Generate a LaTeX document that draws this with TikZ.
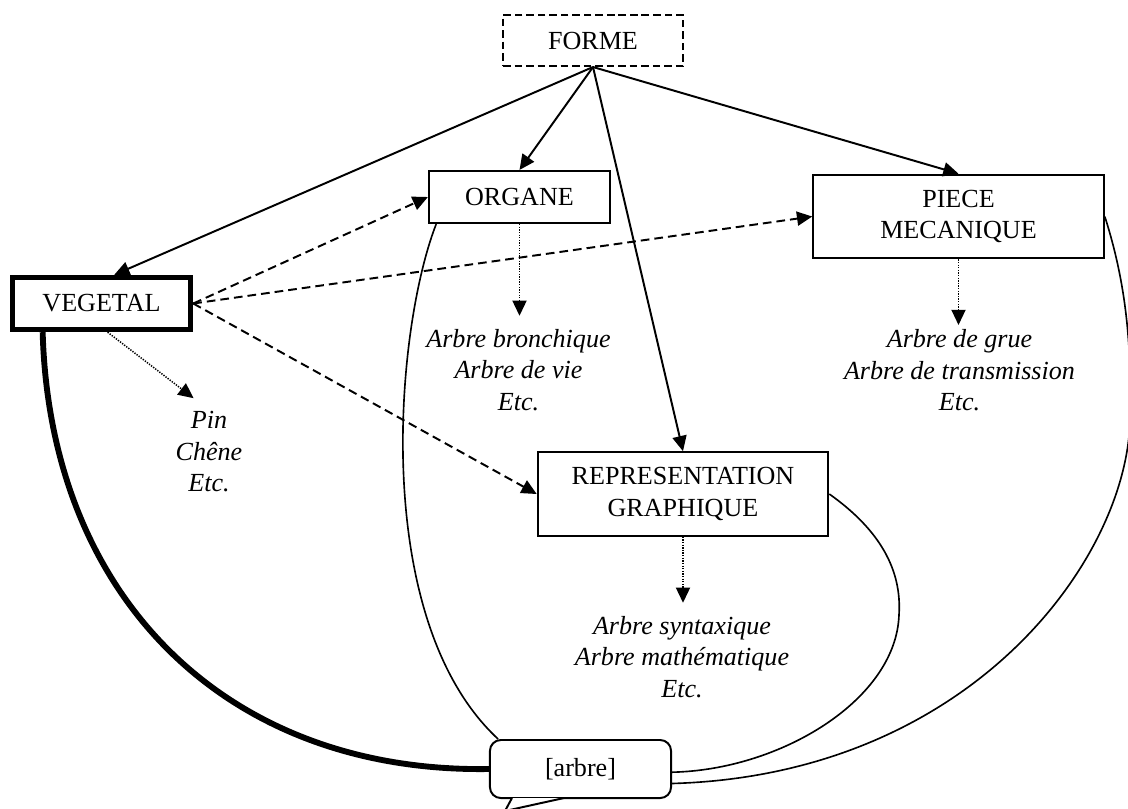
\documentclass[tikz,border=0pt]{standalone}
\usepackage{fontspec}
\setmainfont{Liberation Serif}
\usepackage{tikz}
\usetikzlibrary{arrows.meta, calc}

\begin{document}
\begin{tikzpicture}[
	x=0.46pt, y=-0.46pt,
	font=\fontsize{12pt}{14.5pt}\selectfont,
	box/.style={rectangle, draw, line width=1pt, minimum height=23.9pt, minimum width=83.3pt, align=center, inner sep=2pt},
	formebox/.style={box, dash pattern=on 3.5pt off 1.8pt, line width=0.9pt, minimum width=82.8pt, minimum height=23.5pt},
	vegebox/.style={box, line width=2.5pt, minimum width=81.9pt},
	bigbox/.style={box, minimum width=133.6pt, minimum height=38.4pt},
	bulle/.style={rectangle, draw, fill=white, line width=0.9pt, rounded corners=5pt, minimum width=83.3pt, minimum height=26.7pt},
	exemple/.style={align=center, font=\fontsize{12pt}{14.5pt}\selectfont\itshape, inner xsep=2pt, inner ysep=6pt},
	arr/.style={-{Triangle[length=7pt, width=6.5pt]}, line width=0.9pt},
	darr/.style={arr, dash pattern=on 4pt off 2.3pt},
	parr/.style={arr, line width=0.7pt, dash pattern=on 0.6pt off 0.6pt},
	lien/.style={line width=0.75pt}
	]
	\clip (0,0) rectangle (1128,808);
	\node[formebox] (forme) at (593,40.5) {FORME};
	\node[box] (organe) at (519.5,197) {ORGANE};
	\node[bigbox] (piece) at (958.5,216.5) {PIECE\\MECANIQUE};
	\node[vegebox] (vegetal) at (101.5,303.5) {VEGETAL};
	\node[bigbox] (repr) at (683,494) {REPRESENTATION\\GRAPHIQUE};
	\node[bulle] (arbre) at (580.5,769) {[arbre]};
	\node[exemple] (vegex) at (209,452) {Pin\\Chêne\\Etc.};
	\node[exemple] (organex) at (518.5,370) {Arbre bronchique\\Arbre de vie\\Etc.};
	\node[exemple] (piecex) at (959.5,370.5) {Arbre de grue\\Arbre de transmission\\Etc.};
	\node[exemple] (reprex) at (682,657) {Arbre syntaxique\\Arbre mathématique\\Etc.};
	% callout tail
	\draw[line width=0.9pt, fill=white] ($(arbre.south west)+(23,-1)$) -- (505,811) -- ($(arbre.south west)+(75,-1)$);
	\draw[arr] (forme.south) -- (vegetal.66);
	\draw[arr] (forme.south) -- (organe.north);
	\draw[arr] (forme.south) -- (repr.north);
	\draw[arr] (forme.south) -- (piece.north);
	\draw[darr] (vegetal.east) -- (organe.west);
	\draw[darr] (vegetal.east) -- (piece.west);
	\draw[darr] (vegetal.east) -- (repr.west);
	\draw[parr] (vegetal.-78) -- (vegex.106);
	\draw[parr] (organe.south) -- (organe.south |- organex.north);
	\draw[parr, shorten >=-4pt] (piece.south) -- (piece.south |- piecex.north);
	\draw[parr] (repr.south) -- (repr.south |- reprex.north);
	% links to [arbre]
	\draw[lien, line width=2.7pt] (vegetal.206.8) .. controls (50,597) and (226,773) .. (arbre.west);
	\draw[lien] (organe.198) .. controls (395,330) and (370,620) .. (arbre.160.8);
	\draw[lien] (repr.east) .. controls (880,530) and (902,570) .. (899,615) .. controls (896,700) and (780,770) .. (arbre.-2.5);
	\draw[lien] (piece.east) .. controls (1125,280) and (1132,340) .. (1130,420) .. controls (1127,560) and (970,775) .. (arbre.-9.3);
\end{tikzpicture}
\end{document}
